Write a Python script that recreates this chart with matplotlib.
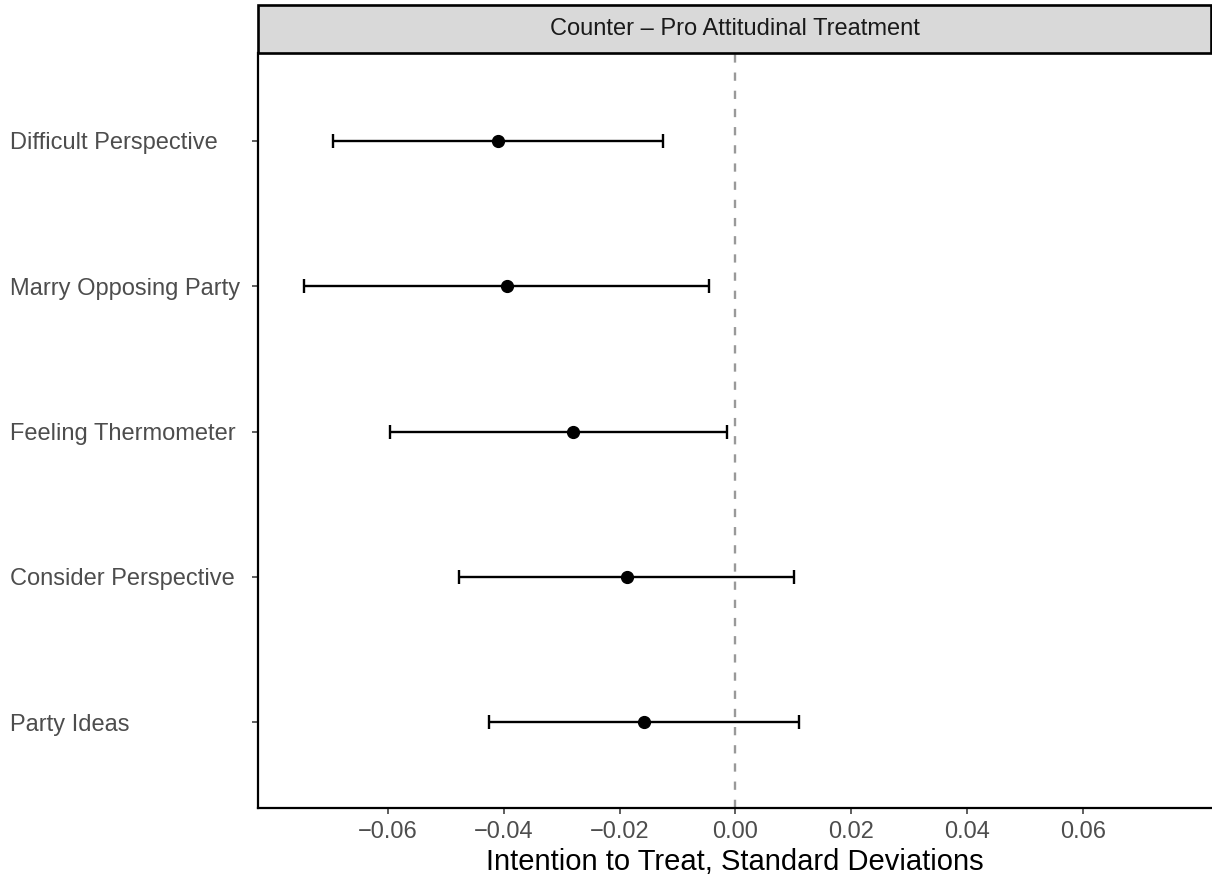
import matplotlib
matplotlib.use("Agg")
import matplotlib.pyplot as plt
from matplotlib.patches import Rectangle

plt.rcParams['font.family'] = ['Liberation Sans', 'DejaVu Sans']

categories = ["Party Ideas", "Consider Perspective", "Feeling Thermometer",
              "Marry Opposing Party", "Difficult Perspective"]
estimates = [-0.0157, -0.0187, -0.0281, -0.0395, -0.0410]
ci_low = [-0.0425, -0.0477, -0.0597, -0.0744, -0.0694]
ci_high = [0.0109, 0.0102, -0.0015, -0.0045, -0.0125]
x_ticks = [-0.06, -0.04, -0.02, 0.00, 0.02, 0.04, 0.06]
x_ticklabels = ["\u22120.06", "\u22120.04", "\u22120.02", "0.00", "0.02", "0.04", "0.06"]
strip_title = "Counter \u2013 Pro Attitudinal Treatment"
x_label = "Intention to Treat, Standard Deviations"

W, H = 1212, 882
fig = plt.figure(figsize=(W / 100, H / 100), dpi=100)
ax_left, ax_right, ax_bottom, ax_top = 258, 1211, 808, 53
ax = fig.add_axes([ax_left / W, 1 - ax_bottom / H, (ax_right - ax_left) / W, (ax_bottom - ax_top) / H])

ypos = list(range(1, len(categories) + 1))
ax.axvline(0, color="#999999", lw=1.7, dashes=(3.5, 4.2), zorder=1)
xerr = [[e - l for e, l in zip(estimates, ci_low)], [h - e for e, h in zip(estimates, ci_high)]]
ax.errorbar(estimates, ypos, xerr=xerr, fmt="o", color="black", ecolor="black",
            elinewidth=1.7, capsize=5, capthick=1.7, markersize=8.5, zorder=3)

ax.set_xlim(-0.0824, 0.0821)
ax.set_ylim(0.41, 5.605)
ax.set_xticks(x_ticks)
ax.set_xticklabels(x_ticklabels)
ax.set_yticks(ypos)
ax.set_yticklabels(categories)

for s in ["top", "right"]:
    ax.spines[s].set_visible(False)
for s in ["left", "bottom"]:
    ax.spines[s].set_linewidth(1.6)
    ax.spines[s].set_color("black")

ax.tick_params(axis="both", colors="#333333", length=4.3, width=1.1, labelcolor="#4d4d4d", labelsize=17)
ax.tick_params(axis="x", pad=5)
ax.tick_params(axis="y", pad=174)
for lbl in ax.get_yticklabels():
    lbl.set_horizontalalignment("left")

ax.set_xlabel(x_label, fontsize=21, color="black", labelpad=4)

# strip
strip_top = 5
sx0 = ax_left / W
sy0 = 1 - ax_top / H
sw = (ax_right - ax_left) / W
sh = (ax_top - strip_top) / H
rect = Rectangle((sx0, sy0), sw, sh, transform=fig.transFigure, facecolor="#d9d9d9",
                 edgecolor="black", lw=1.9, clip_on=False)
fig.add_artist(rect)
fig.text(sx0 + sw / 2, sy0 + sh / 2, strip_title, ha="center", va="center",
         fontsize=17, color="#1a1a1a")

fig.savefig("out.png", dpi=100)
